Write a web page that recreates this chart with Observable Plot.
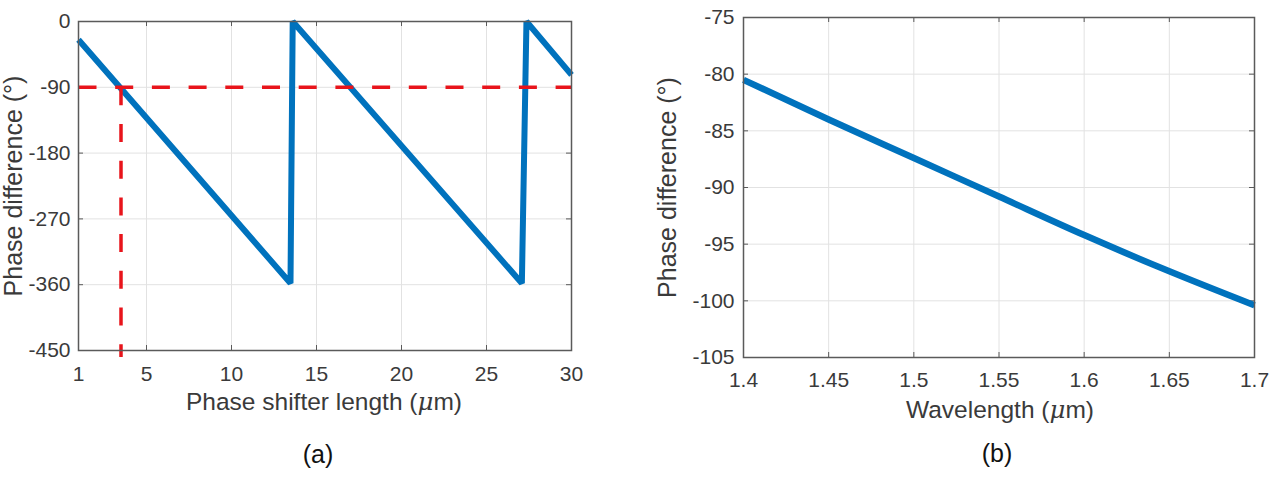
<!DOCTYPE html>
<html>
<head>
<meta charset="utf-8">
<script src="https://cdn.jsdelivr.net/npm/d3@7"></script>
<script src="https://cdn.jsdelivr.net/npm/@observablehq/plot@0.6"></script>
<style>
  html, body { margin: 0; padding: 0; background: #fff; }
  #wrap { position: relative; width: 1269px; height: 480px; overflow: hidden; background: #fff; }
  #pa { position: absolute; left: 0; top: 0; }
  #pb { position: absolute; left: 640px; top: 0; }
</style>
</head>
<body>
<div id="wrap"><div id="pa"></div><div id="pb"></div></div>
<script>
// ---- Panel (a): phase difference vs phase shifter length ----
const lengthUm = [1, 13.47, 13.6, 27.08, 27.35, 30];
const phaseA = [-25, -358, 0, -358, 0, -73];
const ticksXA = [1, 5, 10, 15, 20, 25, 30];
const ticksYA = [0, -90, -180, -270, -360, -450];
const refHLen = [1, 30];
const refHPhase = [-90, -90];
const refVLen = [3.5, 3.5];
const refVPhase = [-90, -459];

// ---- Panel (b): phase difference vs wavelength ----
const wavelengthUm = [1.4, 1.45, 1.5, 1.55, 1.6, 1.65, 1.7];
const phaseB = [-80.5, -84.0, -87.4, -90.8, -94.2, -97.4, -100.4];
const ticksXB = [1.4, 1.45, 1.5, 1.55, 1.6, 1.65, 1.7];
const ticksYB = [-75, -80, -85, -90, -95, -100, -105];

const labelA = "Phase shifter length (μm)";
const labelB = "Wavelength (μm)";
const labelY = "Phase difference (°)";
const tagA = "(a)";
const tagB = "(b)";

const FONT = "'Liberation Sans', Arial, Helvetica, sans-serif";
const BLUE = "#0072BD";
const RED = "#e8141b";
const GRID = "#e2e2e2";
const AX = "#5a5a5a";
const TXT = "#3a3a3a";
const fmt = d => String(d);

function panel(o) {
  const fw = o.width - o.ml - o.mr;
  const fh = o.height - o.mt - o.mb;
  const tk = 5;
  return Plot.plot({
    width: o.width, height: o.height,
    marginLeft: o.ml, marginRight: o.mr, marginTop: o.mt, marginBottom: o.mb,
    style: { fontFamily: FONT, fontSize: "21px", color: TXT, background: "transparent", overflow: "visible" },
    x: { domain: o.xd },
    y: { domain: o.yd },
    marks: [
      Plot.gridX(o.tx, { stroke: GRID, strokeOpacity: 1, strokeWidth: 1 }),
      Plot.gridY(o.ty, { stroke: GRID, strokeOpacity: 1, strokeWidth: 1 }),
      // inward ticks on all four sides
      Plot.tickX(o.tx, { x: d => d, insetTop: fh - tk, stroke: AX, strokeWidth: 1 }),
      Plot.tickX(o.tx, { x: d => d, insetBottom: fh - tk, stroke: AX, strokeWidth: 1 }),
      Plot.tickY(o.ty, { y: d => d, insetRight: fw - tk, stroke: AX, strokeWidth: 1 }),
      Plot.tickY(o.ty, { y: d => d, insetLeft: fw - tk, stroke: AX, strokeWidth: 1 }),
      Plot.axisX(o.tx, { tickSize: 0, tickPadding: o.xpad, tickFormat: fmt, label: null, fontSize: 21, fill: TXT }),
      Plot.axisY(o.ty, { tickSize: 0, tickPadding: o.ypad, tickFormat: fmt, label: null, fontSize: 21, fill: TXT }),
      ...o.extra,
      Plot.frame({ stroke: AX, strokeWidth: 1.5 }),
      Plot.text([o.xlabel], { text: d => d, frameAnchor: "bottom", dy: o.xldy, dx: o.xldx || 0, lineAnchor: "middle", fontSize: 24.5, fill: TXT }),
      Plot.text([labelY], { text: d => d, frameAnchor: "left", dx: o.yldx, rotate: -90, lineAnchor: "middle", textAnchor: "middle", fontSize: 25, fill: TXT }),
      Plot.text([o.tag], { text: d => d, frameAnchor: "bottom", dy: o.tagdy, dx: o.tagdx, lineAnchor: "middle", fontSize: 25, fill: "#111" })
    ]
  });
}

const figA = panel({
  width: 620, height: 480, ml: 78, mr: 49, mt: 21, mb: 130,
  xd: [1, 30], yd: [-450, 0], tx: ticksXA, ty: ticksYA,
  xpad: 16, ypad: 8, xlabel: labelA, xldy: 52, xldx: -1, yldx: -65,
  tag: tagA, tagdy: 104, tagdx: -7,
  extra: [
    Plot.line(lengthUm.map((x, i) => ({ x, y: phaseA[i] })), { x: "x", y: "y", stroke: BLUE, strokeWidth: 6, strokeLinejoin: "miter", strokeLinecap: "butt" }),
    Plot.line(refHLen.map((x, i) => ({ x, y: refHPhase[i] })), { x: "x", y: "y", stroke: RED, strokeWidth: 3.5, strokeDasharray: "18,18.7", strokeLinecap: "butt" }),
    Plot.line(refVLen.map((x, i) => ({ x, y: refVPhase[i] })), { x: "x", y: "y", stroke: RED, strokeWidth: 3.5, strokeDasharray: "18,18.7", strokeLinecap: "butt" })
  ]
});

const figB = panel({
  width: 629, height: 480, ml: 103, mr: 15, mt: 17, mb: 123,
  xd: [1.4, 1.7], yd: [-105, -75], tx: ticksXB, ty: ticksYB,
  xpad: 15, ypad: 9, xlabel: labelB, xldy: 53, xldx: 1, yldx: -76,
  tag: tagB, tagdy: 96, tagdx: -2,
  extra: [
    Plot.line(wavelengthUm.map((x, i) => ({ x, y: phaseB[i] })), { x: "x", y: "y", stroke: BLUE, strokeWidth: 6.5, strokeLinecap: "butt", curve: "monotone-x" })
  ]
});

// italic TeX-like mu
function italicMu(svg) {
  svg.querySelectorAll("text").forEach(t => {
    if (t.children.length === 0 && t.textContent.includes("μ")) {
      const parts = t.textContent.split("μ");
      t.textContent = "";
      const ns = "http://www.w3.org/2000/svg";
      parts.forEach((p, i) => {
        if (i > 0) {
          const m = document.createElementNS(ns, "tspan");
          m.setAttribute("font-style", "italic");
          m.setAttribute("font-family", "'DejaVu Serif', serif");
          m.textContent = "μ";
          t.appendChild(m);
        }
        const s = document.createElementNS(ns, "tspan");
        s.textContent = p;
        t.appendChild(s);
      });
    }
  });
}
italicMu(figA); italicMu(figB);

document.getElementById("pa").appendChild(figA);
document.getElementById("pb").appendChild(figB);
</script>
</body>
</html>
